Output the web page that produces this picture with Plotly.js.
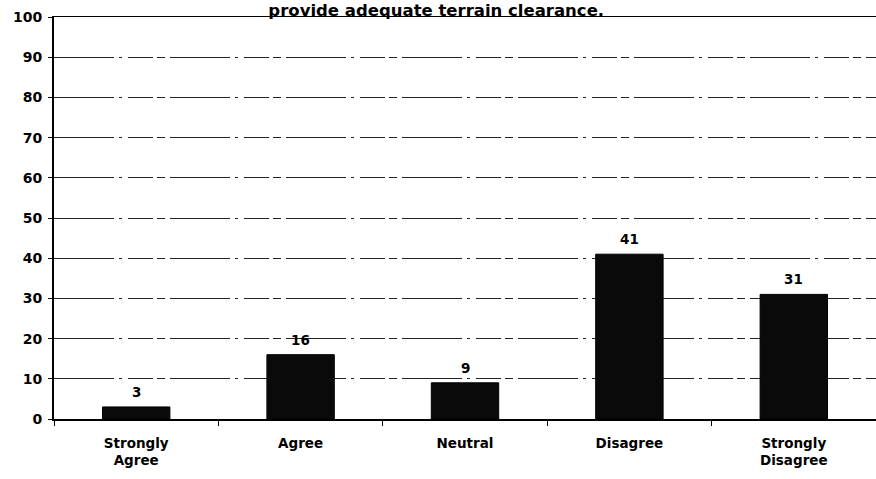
<!DOCTYPE html>
<html>
<head>
<meta charset="utf-8">
<script src="https://cdn.plot.ly/plotly-3.0.1.min.js"></script>
<style>html,body{margin:0;padding:0;background:#fff;}#chart{width:876px;height:479px;}</style>
</head>
<body>
<div id="chart"></div>
<script>
const categories = ["Strongly<br>Agree", "Agree", "Neutral", "Disagree", "Strongly<br>Disagree"];
const values = [3, 16, 9, 41, 31];
const yTicks = [0, 10, 20, 30, 40, 50, 60, 70, 80, 90, 100];
const titleText = "provide adequate terrain clearance.";

const F = "DejaVu Sans, Liberation Sans, Arial, sans-serif";

const trace = {
  type: "bar",
  x: categories,
  y: values,
  width: 0.41,
  marker: {color: "#0a0a0a", line: {color: "#000", width: 1}},
  hoverinfo: "none"
};

const annotations = categories.map((c, i) => ({
  x: c, y: values[i], xref: "x", yref: "y",
  text: String(values[i]),
  showarrow: false,
  yanchor: "bottom", yshift: 5,
  font: {family: F, size: 13.5, color: "#000", weight: "bold"}
}));

const layout = {
  width: 876, height: 479,
  margin: {l: 54, r: 0, t: 17, b: 60},
  paper_bgcolor: "#fff", plot_bgcolor: "#fff",
  showlegend: false,
  font: {family: F, color: "#000", size: 13},
  title: {
    text: titleText,
    font: {family: F, size: 16.5, color: "#000", weight: "bold"},
    x: 0.498, xanchor: "center", xref: "container",
    y: 1, yanchor: "top", yref: "container",
    pad: {t: 4, b: 0}
  },
  annotations: annotations,
  xaxis: {
    showline: true, linecolor: "#000", linewidth: 1.5,
    mirror: true,
    ticks: "outside", ticklen: 5, tickwidth: 1, tickcolor: "#000",
    tickson: "boundaries",
    showgrid: false,
    tickfont: {family: F, size: 13.5, color: "#000", weight: "bold"},
    ticklabelstandoff: 11
  },
  yaxis: {
    range: [0, 100],
    tickvals: yTicks,
    ticktext: yTicks.map(String),
    showline: true, linecolor: "#000", linewidth: 2,
    ticks: "outside", ticklen: 4, tickwidth: 1, tickcolor: "#000",
    showgrid: true, gridcolor: "#222", gridwidth: 1,
    griddash: "60px,5px,3px,6px,25px,4px,8px,5px",
    zeroline: false,
    tickfont: {family: F, size: 14, color: "#000", weight: "bold"},
    ticklabelstandoff: 3
  },
  bargap: 0.59
};

Plotly.newPlot("chart", [trace], layout, {displayModeBar: false, staticPlot: true});
</script>
</body>
</html>
